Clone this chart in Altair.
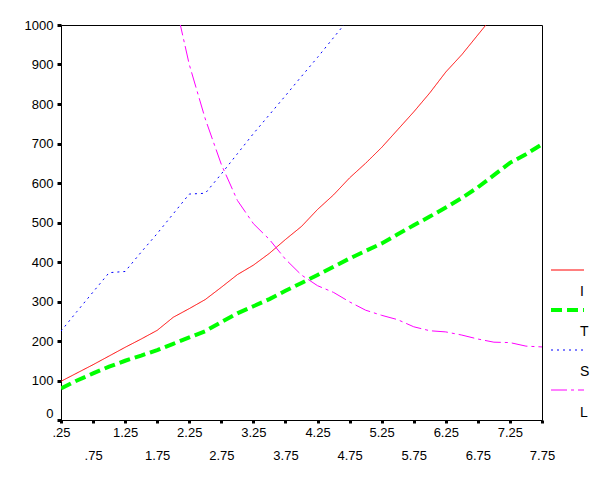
import altair as alt
import pandas as pd

# ---- data ----
x_vals = [0.25, 0.5, 0.75, 1.0, 1.25, 1.5, 1.75, 2.0, 2.25, 2.5, 2.75, 3.0, 3.25, 3.5, 3.75, 4.0,
          4.25, 4.5, 4.75, 5.0, 5.25, 5.5, 5.75, 6.0, 6.25, 6.5, 6.75, 7.0, 7.25, 7.5, 7.75]
i_vals = [98, 119, 140, 162, 184, 205, 227, 260, 282, 305, 336, 368, 392, 422, 457, 490,
          533, 570, 613, 650, 690, 735, 780, 828, 881, 925, 975, 1025]
t_vals = [80, 100, 118, 135, 150, 163, 177, 193, 209, 225, 248, 270, 288, 306, 327, 347,
          367, 388, 409, 428, 447, 470, 493, 515, 538, 562, 589, 620, 651, 673, 698]
s_vals = [225, 275, 324, 373, 376, 425, 472, 522, 572, 574, 623, 674, 725, 773, 821, 870,
          918, 968, 1018]
l_start = 7  # L begins at x = 2.0
l_vals = [1080, 900, 762, 647, 556, 497, 457, 407, 367, 340, 323, 299, 278, 265, 254, 236,
          226, 223, 215, 205, 197, 196, 187, 185]

names = ["I", "T", "S", "L"]
colors = ["#FF0000", "#00FF00", "#0000FF", "#FF00FF"]
dashes = [[1, 0], [11, 5], [2, 4], [16, 4, 3, 4]]
widths = [1, 4, 1, 1]

x_ticks = [0.25, 0.75, 1.25, 1.75, 2.25, 2.75, 3.25, 3.75, 4.25, 4.75, 5.25, 5.75, 6.25,
           6.75, 7.25, 7.75]
y_ticks = [0, 100, 200, 300, 400, 500, 600, 700, 800, 900, 1000]

series_x = [x_vals[:len(i_vals)], x_vals[:len(t_vals)], x_vals[:len(s_vals)],
            x_vals[l_start:l_start + len(l_vals)]]
series_y = [i_vals, t_vals, s_vals, l_vals]

FONT = "Liberation Sans"

x_scale = alt.Scale(domain=[0.25, 7.75], nice=False, zero=False)
y_scale = alt.Scale(domain=[0, 1000], nice=False)

x_axis = alt.Axis(
    values=x_ticks, title=None, grid=False,
    labelExpr="datum.value < 1 ? substring(format(datum.value, '.2f'), 1) : format(datum.value, '.2f')",
    tickSize=3, tickWidth=3, tickColor="black", domainColor="black", domainWidth=1,
    labelColor="black", labelFont=FONT, labelFontSize=13, labelFontWeight="normal",
    labelOverlap=False, labelFlush=False,
    labelPadding={"condition": {"test": "round(datum.value * 100) % 100 == 75", "value": 26},
                  "value": 3},
)
y_axis = alt.Axis(
    values=y_ticks, title=None, grid=False, format="d",
    tickSize=4, tickWidth=3, tickColor="black", domainColor="black", domainWidth=1,
    labelColor="black", labelFont=FONT, labelFontSize=13, labelFontWeight="normal",
    labelOverlap=False, labelFlush=False,
    labelPadding=4,
    labelOffset={"condition": {"test": "datum.value == 0", "value": -7}, "value": 0},
)

layers = []
for k, name in enumerate(names):
    d = pd.DataFrame({"x": series_x[k], "y": series_y[k], "series": name})
    line = alt.Chart(d).mark_line(
        color=colors[k], strokeDash=dashes[k], strokeWidth=widths[k], clip=True,
        strokeCap="butt", interpolate="linear"
    ).encode(
        x=alt.X("x:Q", scale=x_scale, axis=x_axis),
        y=alt.Y("y:Q", scale=y_scale, axis=y_axis),
        order="x:Q",
    )
    layers.append(line)

# ---- manual legend (symbol line, label below-right) ----
leg_sym_y = [245, 285, 325, 365]
leg_lab_y = [267, 307, 347, 388]
for k, name in enumerate(names):
    d = pd.DataFrame({"series": [name]})
    sym = alt.Chart(d).mark_rule(
        color=colors[k], strokeDash=dashes[k], strokeWidth=widths[k], strokeCap="butt"
    ).encode(x=alt.value(490), x2=alt.value(523), y=alt.value(leg_sym_y[k]))
    lab = alt.Chart(d).mark_text(
        align="left", baseline="middle", font=FONT, fontSize=14, color="black"
    ).encode(x=alt.value(519), y=alt.value(leg_lab_y[k]), text="series:N")
    layers += [sym, lab]

chart = alt.layer(*layers).properties(
    width=481, height=395,
    autosize=alt.AutoSizeParams(type="none"),
    padding={"left": 53, "top": 17, "right": 50, "bottom": 50},
    background="white",
).configure_view(stroke="black", strokeWidth=1)

chart.save("out.html", embed_options={"renderer": "svg", "actions": False})
